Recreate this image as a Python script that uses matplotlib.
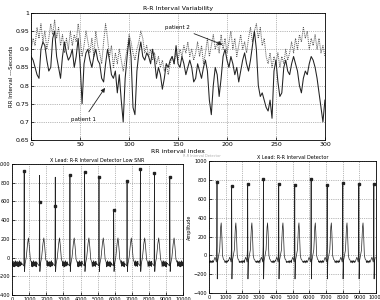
import numpy as np
import matplotlib
matplotlib.use("Agg")
import matplotlib.pyplot as plt

# ---- R-R interval data (every 2nd index) ----
rr_index = np.arange(0, 301, 2)
patient1 = [0.88, 0.87, 0.85, 0.83, 0.82, 0.90, 0.92, 0.91, 0.87, 0.84,
            0.85, 0.93, 0.95, 0.88, 0.85, 0.82, 0.88, 0.92, 0.89, 0.87,
            0.88, 0.90, 0.85, 0.88, 0.93, 0.86, 0.75, 0.86, 0.89, 0.90,
            0.87, 0.85, 0.88, 0.90, 0.87, 0.86, 0.82, 0.81, 0.86, 0.90,
            0.87, 0.83, 0.82, 0.84, 0.78, 0.83, 0.76, 0.70, 0.82, 0.88,
            0.93, 0.88, 0.74, 0.72, 0.84, 0.89, 0.92, 0.88, 0.87, 0.89,
            0.88, 0.86, 0.90, 0.87, 0.82, 0.85, 0.83, 0.79, 0.82, 0.86,
            0.85, 0.87, 0.88, 0.86, 0.91, 0.86, 0.85, 0.88, 0.86, 0.83,
            0.85, 0.87, 0.85, 0.81, 0.82, 0.86, 0.84, 0.82, 0.85, 0.87,
            0.84, 0.76, 0.72, 0.80, 0.85, 0.83, 0.77, 0.82, 0.88, 0.90,
            0.87, 0.85, 0.88, 0.86, 0.83, 0.85, 0.81, 0.84, 0.87, 0.89,
            0.86, 0.84, 0.87, 0.91, 0.95, 0.90, 0.80, 0.77, 0.78, 0.76,
            0.74, 0.73, 0.76, 0.71, 0.84, 0.87, 0.81, 0.77, 0.78, 0.85,
            0.87, 0.84, 0.83, 0.86, 0.88, 0.86, 0.84, 0.80, 0.78, 0.82,
            0.84, 0.83, 0.86, 0.88, 0.87, 0.85, 0.82, 0.78, 0.74, 0.70,
            0.76]
patient2 = [0.90, 0.93, 0.91, 0.96, 0.93, 0.97, 0.92, 0.95, 0.90, 0.93,
            0.97, 0.94, 0.98, 0.93, 0.96, 0.91, 0.94, 0.89, 0.93, 0.90,
            0.95, 0.91, 0.94, 0.92, 0.97, 0.93, 0.88, 0.91, 0.95, 0.92,
            0.89, 0.93, 0.88, 0.95, 0.91, 0.89, 0.86, 0.92, 0.97, 0.93,
            0.88, 0.91, 0.85, 0.89, 0.86, 0.90, 0.87, 0.84, 0.87, 0.90,
            0.94, 0.92, 0.89, 0.87, 0.90, 0.92, 0.95, 0.93, 0.89, 0.91,
            0.88, 0.90, 0.87, 0.89, 0.86, 0.88, 0.85, 0.87, 0.84, 0.86,
            0.83, 0.86, 0.88, 0.86, 0.89, 0.87, 0.90, 0.88, 0.91, 0.89,
            0.92, 0.88, 0.90, 0.87, 0.89, 0.92, 0.88, 0.91, 0.86, 0.89,
            0.93, 0.88, 0.91, 0.94, 0.90, 0.92, 0.89, 0.94, 0.90, 0.93,
            0.89, 0.92, 0.95, 0.90, 0.93, 0.88, 0.91, 0.94, 0.90, 0.92,
            0.89, 0.93, 0.96, 0.92, 0.95, 0.97, 0.93, 0.96, 0.91, 0.93,
            0.88, 0.86, 0.89, 0.85, 0.88, 0.86, 0.89, 0.85, 0.88, 0.86,
            0.90, 0.87, 0.89, 0.92, 0.89, 0.93, 0.90, 0.94, 0.92, 0.96,
            0.93, 0.95, 0.90, 0.93, 0.91, 0.94, 0.90, 0.93, 0.89, 0.91,
            0.88]

# ---- ECG beats, low SNR (left) ----
low_r_pos = [703, 1602, 2520, 3379, 4238, 5078, 5938, 6719, 7500, 8320, 9219]
low_r_amp = [925, 880, 860, 885, 915, 860, 510, 815, 945, 905, 865]
low_det_x = [703, 1602, 2520, 3379, 4238, 5078, 5938, 6719, 7500, 8320, 9219]
low_det_y = [925, 590, 555, 885, 915, 860, 505, 815, 945, 905, 865]
low_beat_off = [-150, -60, -20, 0, 20, 50, 120, 200, 250, 300, 360, 420]
low_beat_val = [-60, -80, -90, None, -150, -70, 0, 150, 210, 120, -20, -50]
low_jitter = [0, -35, 10, -25, -5, -40, 15, -20, -45, 5, -30, -10, 20, -38, -2, -28]

# ---- ECG beats, normal (right) ----
hi_r_pos = [479, 1357, 2315, 3253, 4172, 5130, 6108, 7066, 8004, 8962, 9860]
hi_r_amp = [780, 738, 755, 805, 755, 748, 812, 748, 770, 755, 752]
hi_det_x = [479, 1357, 2315, 3253, 4172, 5130, 6108, 7066, 8004, 8962, 9860]
hi_det_y = [780, 738, 755, 805, 755, 748, 812, 748, 770, 755, 752]
hi_beat_off = [-200, -120, -80, -40, -15, 0, 15, 40, 80, 160, 220, 250, 280, 330, 380, 430]
hi_beat_val = [-60, -20, -40, -70, 100, None, -250, -60, -20, 60, 300, 345, 250, 0, -40, -50]
hi_jitter = [0, -12, 6, -8, 10, -15, 3, -5, 12, -10, 0, -6]


def ecg_trace(r_pos, r_amp, offs, vals, level, jitter, step, x_end):
    xs, ys = [], []
    cursor, k = 0, 0
    for r, a in zip(r_pos, r_amp):
        for x in range(cursor, r + offs[0], step):
            xs.append(x)
            ys.append(level + jitter[k % len(jitter)])
            k += 1
        for o, v in zip(offs, vals):
            if 0 <= r + o <= x_end:
                xs.append(r + o)
                ys.append(a if v is None else v)
        cursor = r + offs[-1] + step
    for x in range(cursor, x_end + 1, step):
        xs.append(x)
        ys.append(level + jitter[k % len(jitter)])
        k += 1
    return xs, ys


def matlab_style(ax, fs):
    ax.tick_params(direction="in", labelsize=fs, length=2, width=0.5, pad=1.5)
    ax.grid(True, linestyle=":", color="#777777", linewidth=0.5)
    for s in ax.spines.values():
        s.set_linewidth(0.6)


fig = plt.figure(figsize=(3.8, 3.0), dpi=100)

# top: RR interval variability
ax = fig.add_axes([0.082, 0.533, 0.773, 0.424])
ax.plot(rr_index, patient2, color="#555555", linestyle=(0, (1, 1)), linewidth=0.7)
ax.plot(rr_index, patient1, color="#222222", linewidth=0.75)
ax.set_xlim(0, 300)
ax.set_ylim(0.65, 1.0)
ax.set_xticks(np.arange(0, 301, 50))
yt = np.arange(0.65, 1.001, 0.05)
ax.set_yticks(yt)
ax.set_yticklabels(["%g" % round(v, 2) for v in yt])
ax.set_title("R-R Interval Variability", fontsize=4.5, pad=2)
ax.set_xlabel("RR interval index", fontsize=4.5, labelpad=1)
ax.set_ylabel("RR Interval ---Seconds", fontsize=4, labelpad=1)
matlab_style(ax, 4.5)
ax.annotate("patient 2", xy=(198, 0.91), xytext=(137, 0.956), fontsize=4,
            arrowprops=dict(arrowstyle="-|>", color="#222222", lw=0.6,
                            mutation_scale=6))
ax.annotate("patient 1", xy=(77, 0.80), xytext=(41, 0.703), fontsize=4,
            arrowprops=dict(arrowstyle="-|>", color="#222222", lw=0.6,
                            mutation_scale=6))

# bottom left: low SNR detector
ax = fig.add_axes([0.032, 0.017, 0.45, 0.436])
lx, ly = ecg_trace(low_r_pos, low_r_amp, low_beat_off, low_beat_val,
                   -55, low_jitter, 15, 10000)
ax.plot(lx, ly, color="#222222", linewidth=0.5)
ax.plot(low_det_x, low_det_y, "s", color="#222222", markersize=1.6)
ax.set_xlim(0, 10000)
ax.set_ylim(-400, 1000)
ax.set_xticks(np.arange(0, 10001, 1000))
ax.set_yticks(np.arange(-400, 1001, 200))
ax.set_title("X Lead: R-R Interval Detector Low SNR", fontsize=3.5, pad=1.5)
ax.set_ylabel("Amplitude", fontsize=3.5, labelpad=1)
matlab_style(ax, 3.5)

# bottom right: detector
ax = fig.add_axes([0.55, 0.023, 0.44, 0.44])
hx, hy = ecg_trace(hi_r_pos, hi_r_amp, hi_beat_off, hi_beat_val,
                   -65, hi_jitter, 25, 10000)
ax.plot(hx, hy, color="#222222", linewidth=0.5)
ax.plot(hi_det_x, hi_det_y, "s", color="#222222", markersize=1.6)
ax.set_xlim(0, 10000)
ax.set_ylim(-400, 1000)
ax.set_xticks(np.arange(0, 10001, 1000))
ax.set_yticks(np.arange(-400, 1001, 200))
ax.set_title("X Lead: R-R Interval Detector", fontsize=3.5, pad=1.5)
ax.set_ylabel("Amplitude", fontsize=3.5, labelpad=1)
matlab_style(ax, 3.5)

fig.text(0.53, 0.478, "R-R Interval Detector", fontsize=2.5, color="#aaaaaa",
         ha="center")

fig.savefig("out.png", dpi=100)
